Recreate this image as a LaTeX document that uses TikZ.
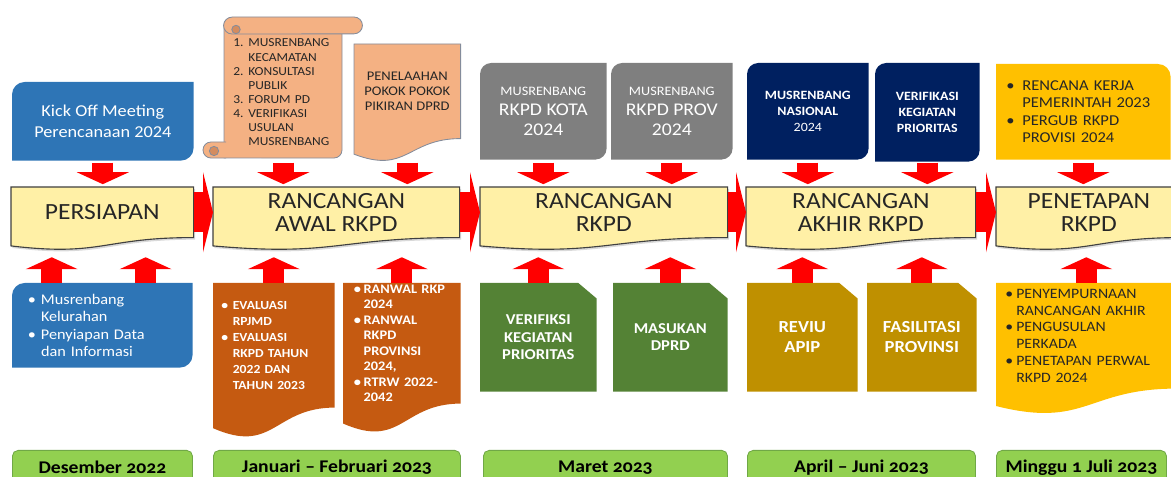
\documentclass[tikz,border=0pt]{standalone}
\usepackage{fontspec}
\setmainfont{Carlito}[FakeStretch=1.1]
\newfontfamily\monthfont{Carlito}[FakeStretch=1.1,Numbers=OldStyle]
\usetikzlibrary{
    arrows.meta,
    calc,
    backgrounds,
    shadows,
}
\definecolor{kickblue}{RGB}{46,117,182}
\definecolor{peach}{RGB}{244,177,131}
\definecolor{peachdark}{RGB}{212,140,95}
\definecolor{scrollline}{RGB}{132,140,155}
\definecolor{rkpdgrey}{RGB}{127,127,127}
\definecolor{nasnavy}{RGB}{0,32,96}
\definecolor{amber}{RGB}{255,192,0}
\definecolor{paleyellow}{RGB}{255,240,166}
\definecolor{stageline}{RGB}{64,64,64}
\definecolor{rust}{RGB}{197,90,17}
\definecolor{leaf}{RGB}{84,130,53}
\definecolor{ochre}{RGB}{191,144,0}
\definecolor{monthgreen}{RGB}{146,208,80}
\definecolor{monthline}{RGB}{112,168,70}
\definecolor{darktext}{RGB}{38,38,38}
\definecolor{flowred}{RGB}{255,0,0}

\newcommand{\itm}[2]{\makebox[#1][l]{#2}}
\newcommand{\bul}[1]{\makebox[#1][l]{\textbullet}}
\newcommand{\gap}[1]{\hspace*{#1}}

\newcommand{\docshape}[2]{%
    \path[#2] (#1.north west) -- (#1.north east) -- (#1.south east)
        .. controls (#1.south) and ($(#1.south)!-0.38!(#1.north)$)
        .. ($(#1.south west)!-0.165!(#1.north west)$) -- cycle;}
\newcommand{\diagshape}[3]{%
    \path[#2] (#1.south west) -- ([yshift=-#3]#1.north west)
        arc[start angle=180, end angle=90, radius=#3] -- (#1.north east)
        -- ([yshift=#3]#1.south east)
        arc[start angle=0, end angle=-90, radius=#3] -- cycle;}
\newcommand{\snipshape}[2]{%
    \path[#2] (#1.south west) -- (#1.north west) -- ([xshift=-13pt]#1.north east)
        -- ([yshift=-11pt]#1.north east) -- (#1.south east) -- cycle;}
\newcommand{\cornershape}[3]{%
    \path[#2] (#1.south west) -- (#1.north west) -- ([xshift=-#3]#1.north east)
        arc[start angle=90, end angle=0, radius=#3] -- (#1.south east) -- cycle;}

\begin{document}
\begin{tikzpicture}[
        x=0.025cm, y=-0.025cm,
        box/.style={anchor=north west, inner sep=2pt, align=center},
        listbox/.style={anchor=north west, inner sep=2pt, align=left},
        kickbox/.style={box, text=white, font=\fontsize{11.8}{15}\selectfont},
        scrollbox/.style={listbox, text=darktext, font=\fontsize{8.7}{10}\selectfont},
        pokokbox/.style={box, text=darktext, font=\fontsize{9.4}{10.7}\selectfont},
        greybox/.style={box, text=white, minimum height=2.4cm, font=\fontsize{12.7}{14.2}\selectfont},
        navybox/.style={box, text=white, font=\bfseries\fontsize{9}{11.2}\selectfont},
        amberbox/.style={listbox, text=darktext, font=\fontsize{10.7}{12.3}\selectfont},
        stagebox/.style={box, text=darktext, minimum height=1.25cm, font=\fontsize{16.5}{16.5}\selectfont},
        bluelist/.style={listbox, text=white, font=\fontsize{10.5}{12.4}\selectfont},
        rustlist/.style={listbox, text=white, font=\bfseries\fontsize{8.8}{11.4}\selectfont},
        snipbox/.style={box, text=white, minimum height=2.7cm, font=\bfseries\fontsize{10.7}{12.4}\selectfont},
        amberlist/.style={listbox, text=darktext, font=\fontsize{10.2}{12}\selectfont},
        monthbox/.style={box, fill=monthgreen, draw=monthline, line width=0.6pt, rounded corners=4pt,
            minimum height=0.85cm, font=\monthfont\bfseries\fontsize{12.7}{14}\selectfont},
        dnarrow/.style={draw=flowred, line width=15pt,
            -{Triangle[length=8.5pt, width=37pt, line width=0pt]}, shorten <=1.5pt, shorten >=2pt},
        uparrow/.style={dnarrow, shorten <=0pt, shorten >=14pt},
        rarrow/.style={draw=flowred, line width=28.5pt,
            -{Triangle[length=7.1pt, width=57pt, line width=0pt]}},
    ]
    \useasboundingbox (0,0) rectangle (1171,477);

    \node[kickbox, minimum width=4.525cm, minimum height=1.95cm] (kick) at (12,82) {Kick Off Meeting\\Perencanaan 2024};
    \node[scrollbox, text width=2.5cm, minimum width=2.95cm, minimum height=2.95cm] (musr) at (224,33)
        {\itm{10.7pt}{1.}MUSRENBANG\\\gap{10.7pt}KECAMATAN\\\itm{10.7pt}{2.}KONSULTASI\\\gap{10.7pt}PUBLIK\\
         \itm{10.7pt}{3.}FORUM PD\\\itm{10.7pt}{4.}VERIFIKASI\\\gap{10.7pt}USULAN\\\gap{10.7pt}MUSRENBANG};
    \node[pokokbox, minimum width=2.65cm, minimum height=2.35cm] (pokok) at (354,44) {PENELAAHAN\\POKOK POKOK\\PIKIRAN DPRD};
    \node[greybox, minimum width=3.15cm] (kota) at (480,63) {{\fontsize{9.2}{14.2}\selectfont MUSRENBANG}\\RKPD KOTA\\2024};
    \node[greybox, minimum width=3.025cm] (prov) at (611,63) {{\fontsize{9.2}{14.2}\selectfont MUSRENBANG}\\RKPD PROV\\2024};
    \node[navybox, minimum width=3.025cm, minimum height=2.4cm] (nas) at (747,63) {MUSRENBANG\\NASIONAL\\\mdseries 2024};
    \node[navybox, minimum width=2.6cm, minimum height=2.45cm] (verif) at (875,63) {VERIFIKASI\\KEGIATAN\\PRIORITAS};
    \node[amberbox, text width=3.85cm, minimum width=4.35cm, minimum height=2.375cm] (rkp) at (996,64)
        {\bul{11.4pt}RENCANA KERJA\\\gap{11.4pt}PEMERINTAH 2023\\\bul{11.4pt}PERGUB RKPD\\\gap{11.4pt}PROVISI 2024};

    \node[stagebox, minimum width=4.55cm] (prep) at (11,187) {PERSIAPAN};
    \node[stagebox, minimum width=6.15cm] (awal) at (213,187) {RANCANGAN\\AWAL RKPD};
    \node[stagebox, minimum width=6.175cm] (rkpd) at (480,187) {RANCANGAN\\RKPD};
    \node[stagebox, minimum width=5.725cm] (akhir) at (746,187) {RANCANGAN\\AKHIR RKPD};
    \node[stagebox, minimum width=4.625cm] (tetap) at (996,187) {PENETAPAN\\RKPD};

    \node[bluelist, text width=3.725cm, minimum width=4.5cm, minimum height=2.1cm] (mus) at (12,283)
        {\bul{9.4pt}Musrenbang\\\gap{9.4pt}Kelurahan\\\bul{9.4pt}Penyiapan Data\\\gap{9.4pt}dan Informasi};
    \node[rustlist, text width=2.625cm, minimum width=3.025cm, minimum height=3.1cm] (ev) at (213,283)
        {\bul{8.2pt}EVALUASI\\\gap{8.2pt}RPJMD\\\bul{8.2pt}EVALUASI\\\gap{8.2pt}RKPD TAHUN\\\gap{8.2pt}2022 DAN\\\gap{8.2pt}TAHUN 2023};
    \node[rustlist, inner sep=0pt, text width=2.4cm, minimum width=2.925cm, minimum height=3cm,
        font=\bfseries\fontsize{9.3}{11}\selectfont] (ran) at (343,283)
        {\bul{7pt}RANWAL RKP\\\gap{7pt}2024\\\bul{7pt}RANWAL\\\gap{7pt}RKPD\\\gap{7pt}PROVINSI\\\gap{7pt}2024,\\
         \bul{7pt}RTRW 2022-\\\gap{7pt}2042};
    \node[snipbox, minimum width=2.9cm] (vk) at (480,283) {VERIFIKSI\\KEGIATAN\\PRIORITAS};
    \node[snipbox, minimum width=2.85cm] (mas) at (613,283) {MASUKAN\\DPRD};
    \node[snipbox, minimum width=2.75cm, font=\bfseries\fontsize{12}{14}\selectfont] (rev) at (747,283) {REVIU\\APIP};
    \node[snipbox, minimum width=2.725cm, font=\bfseries\fontsize{12}{14}\selectfont] (fas) at (867,283) {FASILITASI\\PROVINSI};
    \node[amberlist, text width=4.05cm, minimum width=4.5cm, minimum height=2.625cm] (pen) at (996,283)
        {\bul{7.8pt}PENYEMPURNAAN\\\gap{7.8pt}RANCANGAN AKHIR\\\bul{7.8pt}PENGUSULAN\\\gap{7.8pt}PERKADA\\
         \bul{7.8pt}PENETAPAN PERWAL\\\gap{7.8pt}RKPD 2024};

    \node[monthbox, minimum width=4.5cm] (des) at (12,450) {Desember 2022};
    \node[monthbox, minimum width=6.175cm] (jan) at (213,450) {Januari – Februari 2023};
    \node[monthbox, minimum width=6.1cm] (mar) at (483,450) {Maret 2023};
    \node[monthbox, minimum width=5.7cm] (apr) at (747,450) {April – Juni 2023};
    \node[monthbox, minimum width=4.25cm] (mgg) at (996,450) {Minggu 1 Juli 2023};

    \begin{scope}[on background layer]
        \diagshape{kick}{fill=kickblue}{9pt}
        \path[fill=peach, draw=scrollline, line width=0.6pt] (224,25) -- (342,25) -- (342,150)
            arc[start angle=0, end angle=-90, radius=5.7pt] -- (224,158) -- cycle;
        \path[fill=peach, draw=scrollline, line width=0.6pt] (232,17) -- (354,17)
            arc[start angle=90, end angle=-90, radius=6pt] -- (232,34)
            arc[start angle=270, end angle=90, radius=6pt] -- cycle;
        \path[fill=peachdark, draw=scrollline, line width=0.6pt] (236,29.5) circle[radius=3pt];
        \path[fill=peach, draw=scrollline, line width=0.6pt] (226,142) -- (211,142)
            arc[start angle=90, end angle=270, radius=5.7pt] -- (226,158);
        \path[fill=peachdark, draw=scrollline, line width=0.6pt] (214,151) circle[radius=3.3pt];
        \docshape{pokok}{fill=peach, draw=scrollline, line width=0.6pt}
        \diagshape{kota}{fill=rkpdgrey}{8pt}
        \diagshape{prov}{fill=rkpdgrey}{8pt}
        \diagshape{nas}{fill=nasnavy}{8pt}
        \diagshape{verif}{fill=nasnavy}{8pt}
        \cornershape{rkp}{fill=amber}{9pt}
        \foreach \s in {prep,awal,rkpd,akhir,tetap}
            \docshape{\s}{fill=paleyellow, draw=stageline, line width=0.8pt,
                drop shadow={opacity=0.3, shadow xshift=1pt, shadow yshift=-1.5pt}};
        \diagshape{mus}{fill=kickblue}{9pt}
        \docshape{ev}{fill=rust}
        \docshape{ran}{fill=rust}
        \snipshape{vk}{fill=leaf}
        \snipshape{mas}{fill=leaf}
        \snipshape{rev}{fill=ochre}
        \snipshape{fas}{fill=ochre}
        \docshape{pen}{fill=amber}
    \end{scope}

    \foreach \a/\b in {kick/prep, musr/awal, pokok/awal, kota/rkpd, prov/rkpd, nas/akhir, verif/akhir, rkp/tetap}
        \draw[dnarrow] (\a.south |- kick.south) -- (\a.south |- \b.north);
    \coordinate (musa) at ($(mus.north west)!.22!(mus.north east)$);
    \coordinate (musb) at ($(mus.north west)!.74!(mus.north east)$);
    \draw[uparrow] (musa) -- (musa |- prep.south);
    \draw[uparrow] (musb) -- (musb |- prep.south);
    \foreach \a/\b in {ev/awal, ran/awal, vk/rkpd, mas/rkpd, rev/akhir, fas/akhir, pen/tetap}
        \draw[uparrow] (\a.north) -- (\a.north |- \b.south);
    \foreach \a/\b in {prep/awal, awal/rkpd, rkpd/akhir, akhir/tetap}
        \draw[rarrow] (\a.east) -- (\b.west);
\end{tikzpicture}
\end{document}
